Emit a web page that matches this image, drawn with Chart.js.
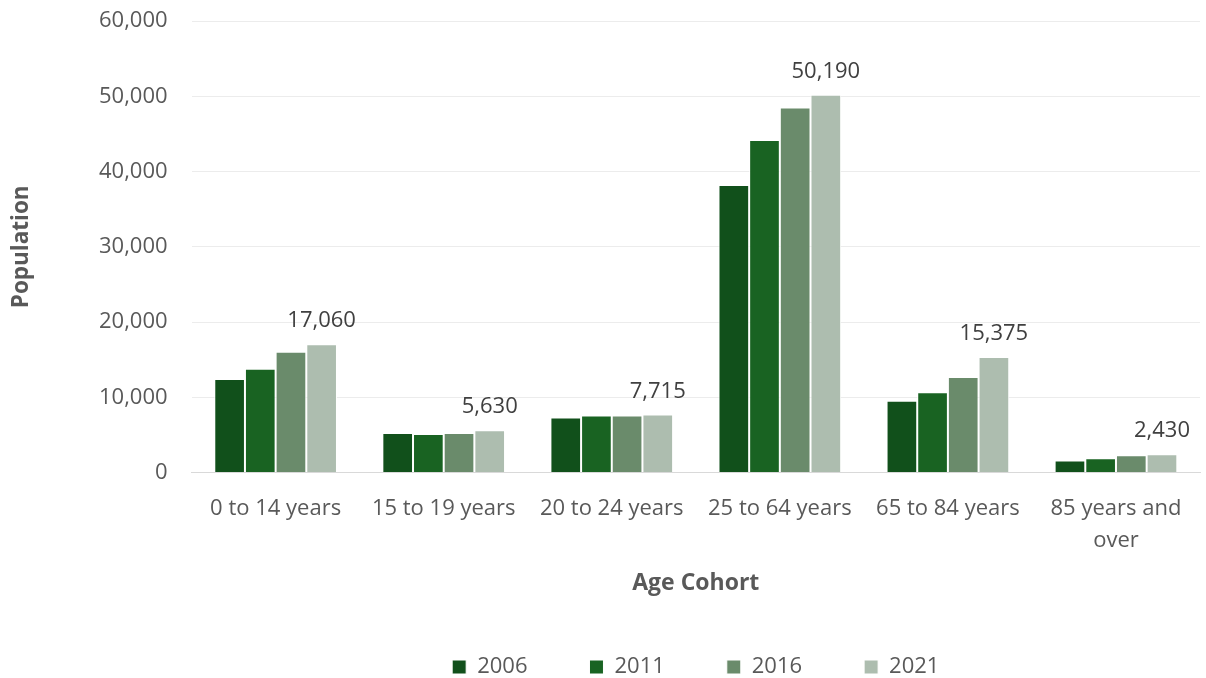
<!DOCTYPE html>
<html>
<head>
<meta charset="utf-8">
<script src="https://cdn.jsdelivr.net/npm/chart.js@4"></script>
<style>
  html, body { margin: 0; padding: 0; background: #fff; overflow: hidden; }
  #wrap { width: 1206px; height: 678px; }
</style>
</head>
<body>
<div id="wrap"><canvas id="myChart" width="1206" height="678"></canvas></div>
<script>
const categories = ['0 to 14 years', '15 to 19 years', '20 to 24 years', '25 to 64 years', '65 to 84 years', ['85 years and', 'over']];
const years = ['2006', '2011', '2016', '2021'];
const pop2006 = [12450, 5250, 7330, 38200, 9560, 1600];
const pop2011 = [13800, 5120, 7600, 44200, 10670, 1920];
const pop2016 = [16050, 5250, 7600, 48500, 12700, 2320];
const pop2021 = [17060, 5630, 7715, 50190, 15375, 2430];
const yTicks = [0, 10000, 20000, 30000, 40000, 50000, 60000];
const colors = ['#11501b', '#196322', '#6a8b6b', '#adbdaf'];

const font = "'Open Sans', 'Noto Sans', sans-serif";

// labels above the 2021 bars only
const topLabels = {
    id: 'topLabels',
    afterDatasetsDraw(chart) {
        const c = chart.ctx;
        const meta = chart.getDatasetMeta(3);
        c.save();
        c.font = '22px ' + font;
        c.fillStyle = '#404040';
        c.textAlign = 'center';
        c.textBaseline = 'alphabetic';
        meta.data.forEach((bar, i) => {
            c.fillText(pop2021[i].toLocaleString('en-US'), bar.x, bar.y - 17);
        });
        c.restore();
    }
};

// legend sits centred under the plot area, not the whole canvas
const centerLegend = {
    id: 'centerLegend',
    afterLayout(chart) {
        const lg = chart.legend, area = chart.chartArea;
        lg.left = area.left;
        lg.right = area.right;
        lg.width = area.right - area.left;
    }
};

const ctx = document.getElementById('myChart').getContext('2d');
const myChart = new Chart(ctx, {
    type: 'bar',
    data: {
        labels: categories,
        datasets: [pop2006, pop2011, pop2016, pop2021].map((d, i) => ({
            label: years[i],
            data: d,
            backgroundColor: colors[i],
            borderColor: '#ffffff',
            borderWidth: 1,
            categoryPercentage: 0.73,
            barPercentage: 1.0
        }))
    },
    options: {
        responsive: false,
        animation: false,
        layout: { padding: { left: 0, right: 6, top: 0, bottom: -10 } },
        plugins: {
            tooltip: { enabled: false },
            legend: {
                position: 'bottom',
                labels: {
                    boxWidth: 14,
                    boxHeight: 14,
                    padding: 62,
                    color: '#595959',
                    font: { family: font, size: 22 }
                }
            }
        },
        scales: {
            x: {
                grid: { display: false, drawTicks: false },
                border: { color: '#d9d9d9', width: 1 },
                ticks: {
                    color: '#595959',
                    padding: 20,
                    maxRotation: 0,
                    font: { family: font, size: 22, lineHeight: 1.45 }
                },
                title: {
                    display: true,
                    text: 'Age Cohort',
                    color: '#595959',
                    padding: { top: -7, bottom: -3 },
                    font: { family: font, size: 23, weight: 'bold' }
                }
            },
            y: {
                min: 0,
                max: 60000,
                afterBuildTicks: axis => { axis.ticks = yTicks.map(v => ({ value: v })); },
                afterFit: axis => { axis.paddingTop = 21; },
                grid: { color: '#ececec', drawTicks: false },
                border: { display: false },
                ticks: {
                    color: '#595959',
                    padding: 24,
                    font: { family: font, size: 22 },
                    callback: v => v.toLocaleString('en-US')
                },
                title: {
                    display: true,
                    text: 'Population',
                    color: '#595959',
                    padding: { top: 8, bottom: 40 },
                    font: { family: font, size: 22.5, weight: 'bold' }
                }
            }
        }
    },
    plugins: [topLabels, centerLegend]
});
</script>
</body>
</html>
